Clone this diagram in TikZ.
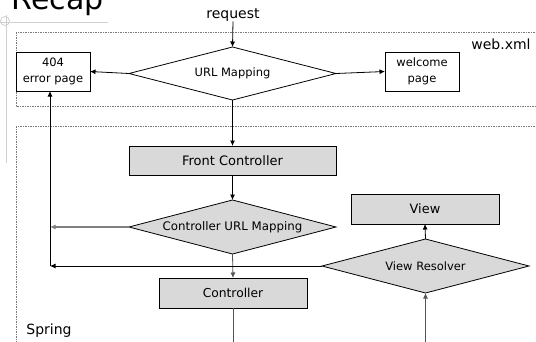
\documentclass[tikz,border=0pt]{standalone}
\usepackage{fontspec}
\setmainfont{DejaVu Sans}
\usetikzlibrary{shapes.geometric,arrows.meta}
\definecolor{boxfill}{HTML}{D9D9D9}
\definecolor{dashgray}{HTML}{7A7A7A}
\definecolor{linegray}{HTML}{555555}
\definecolor{decogray}{HTML}{D0D0D0}
\tikzset{
  every node/.style={inner sep=0pt, outer sep=0pt},
  rectbox/.style={draw=black, line width=0.8pt, rectangle, align=center},
  graybox/.style={rectbox, fill=boxfill},
  decision/.style={draw=black, line width=0.8pt, diamond, shape aspect=3.83, align=center},
  graydecision/.style={decision, fill=boxfill},
  region/.style={draw=dashgray, line width=0.6pt, dash pattern=on 1.5pt off 1pt},
  conn/.style={draw=black, line width=0.8pt, -{Latex[length=5.5pt,width=5pt]}},
  gconn/.style={conn, draw=linegray},
  lconn/.style={conn, draw=gray, line width=1.2pt},
  small/.style={font=\fontsize{11.5}{15.5}\selectfont},
  big/.style={font=\fontsize{14}{16}\selectfont},
}
\begin{document}
\begin{tikzpicture}[x=1pt,y=-1pt]
\clip (0,0) rectangle (536,341);
\fill[white] (0,0) rectangle (536,341);
% decoration
\draw[decogray, line width=0.8pt] (0,22) -- (108,22);
\draw[decogray, line width=0.8pt] (6,15) -- (6,163);
\draw[decogray, line width=0.8pt] (5,21) circle (4.5);
\node[anchor=base west, font=\fontsize{30}{30}\selectfont] (recap) at (12,9) {Recap};
% regions
\draw[region] (16,32) rectangle (560,106);
\draw[region] (16,126) rectangle (560,380);
\node[big] (webxml) at (501,44) {web.xml};
\node[big] (spring) at (49,331) {Spring};
% nodes
\node[big] (req) at (233,15) {request};
\node[decision, small, minimum width=207, minimum height=53] (url) at (232.5,73.5) {URL Mapping};
\node[rectbox, small, minimum width=74, minimum height=39] (err) at (53,71.5) {404\\error page};
\node[rectbox, small, minimum width=74, minimum height=39] (wel) at (422,71.5) {welcome\\page};
\node[graybox, font=\fontsize{13}{15}\selectfont, minimum width=207, minimum height=29] (fc) at (232.5,160.5) {Front Controller};
\node[graydecision, font=\fontsize{11.8}{14}\selectfont, minimum width=207, minimum height=54] (cum) at (232.5,227) {Controller URL Mapping};
\node[graybox, font=\fontsize{12.3}{14}\selectfont, minimum width=148, minimum height=30] (ctl) at (233,293) {Controller};
\node[graybox, font=\fontsize{12.9}{14}\selectfont, minimum width=148, minimum height=30] (view) at (425,209) {View};
\node[graydecision, small, minimum width=207, minimum height=54] (vr) at (425.5,266) {View Resolver};
\coordinate (j1) at (50,227);
\coordinate (j2) at (50,266);
\coordinate (ctlend) at (233,350);
\coordinate (vrstart) at (425.5,350);
% connectors
\draw[conn] (req.south) -- (url.north);
\draw[conn] (url.west) -- (err.east);
\draw[conn] (url.east) -- (wel.west);
\draw[conn] (url.south) -- (fc.north);
\draw[conn] (fc.south) -- (cum.north);
\draw[gconn] (cum.south) -- (ctl.north);
\draw[lconn] (cum.west) -- (j1);
\draw[conn] (vr.west) -- (j2);
\draw[conn] (j2) -- (j2 |- err.south);
\draw[draw=linegray, line width=0.8pt] (ctl.south) -- (ctlend);
\draw[gconn] (vrstart) -- (vr.south);
\draw[conn] (vr.north) -- (view.south);
\end{tikzpicture}
\end{document}
